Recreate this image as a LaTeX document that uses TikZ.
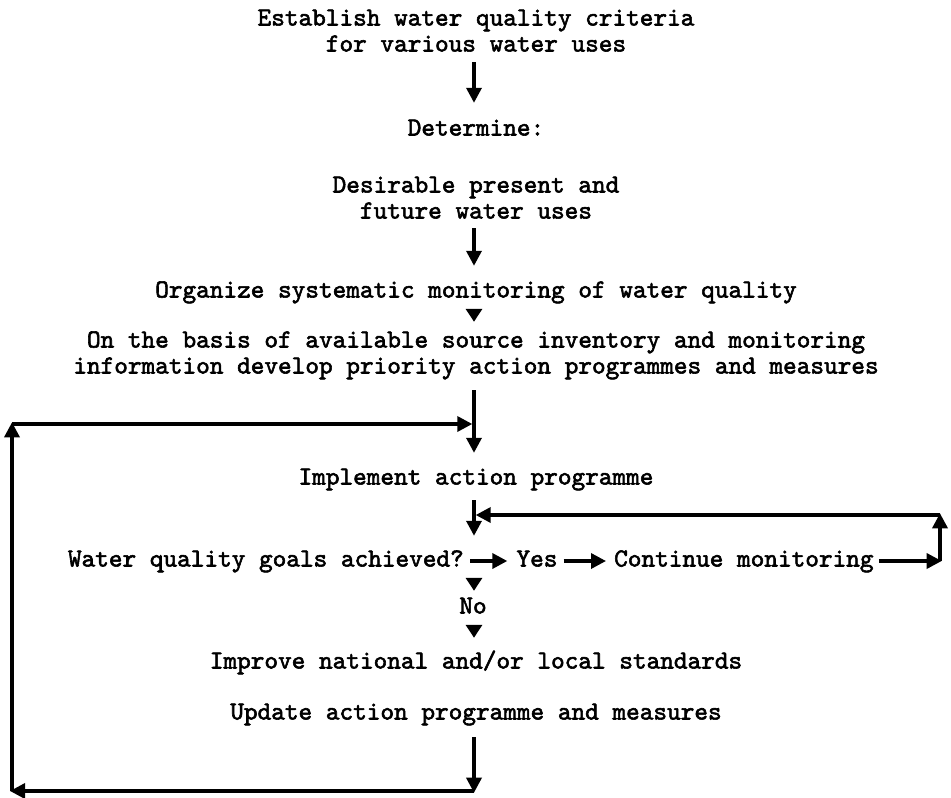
\documentclass[tikz,border=0pt]{standalone}
\usepackage{fontspec}
\newfontfamily\typewriter{lmmono10-regular.otf}[FakeBold=2.2]
\usetikzlibrary{arrows.meta}
\begin{document}
\begin{tikzpicture}[x=1pt,y=-1pt,
  lbl/.style={inner sep=0pt, font=\typewriter\fontsize{26}{28}\selectfont,
              text height=16pt, text depth=5pt},
  ln/.style={line width=3.4pt},
  arr/.style={ln, -{Triangle[length=15pt,width=15pt]}},
  tri/.style={ln, -{Triangle[length=13pt,width=16pt]}}]
\useasboundingbox (0,0) rectangle (951,798);

% vertical axis of the main chain
\coordinate (ax) at (474,0);

% text lines
\node[lbl] (n1) at (476,20) {Establish water quality criteria};
\node[lbl] (n2) at (476,46) {for various water uses};
\node[lbl] (n3) at (476,130) {Determine:};
\node[lbl] (n4) at (476,187) {Desirable present and};
\node[lbl] (n5) at (476,213) {future water uses};
\node[lbl] (n6) at (476,292) {Organize systematic monitoring of water quality};
\node[lbl] (n7) at (476,342) {On the basis of available source inventory and monitoring};
\node[lbl] (n8) at (476,368) {information develop priority action programmes and measures};
\node[lbl] (n9) at (476,479) {Implement action programme};
\node[lbl, anchor=east] (goals) at (464,561) {Water quality goals achieved?};
\node[lbl] (yes) at (537,561) {Yes};
\node[lbl, anchor=west] (cont) at (614,561) {Continue monitoring};
\node[lbl] (no) at (473,608) {No};
\node[lbl] (imp) at (476,663) {Improve national and/or local standards};
\node[lbl] (upd) at (476,714) {Update action programme and measures};

% loop corners
\coordinate (br) at (474,791);
\coordinate (bl) at (12,791);
\coordinate (tl) at (12,424);
\coordinate (tr) at (940,515);
\coordinate (rr) at (cont.east -| tr);

% main chain
\draw[arr, shorten <=5.5pt, shorten >=16.5pt] (n2.south -| ax) -- (n3.north -| ax);
\draw[arr, shorten <=4.5pt, shorten >=15.5pt] (n5.south -| ax) -- (n6.north -| ax);
\draw[tri, shorten <=6.5pt, shorten >=9.5pt] (n6.south -| ax) -- (n7.north -| ax);
\draw[arr, shorten <=11.5pt, shorten >=15.5pt] (n8.south -| ax) -- (n9.north -| ax);
\draw[arr, shorten <=10.5pt, shorten >=14.5pt] (n9.south -| ax) -- (goals.north -| ax);
\draw[tri, shorten <=6.5pt, shorten >=6.5pt] (goals.south -| ax) -- (no.north -| ax);
\draw[tri, shorten <=6.5pt, shorten >=14.5pt] (no.south -| ax) -- (imp.north -| ax);

% yes branch
\draw[arr, shorten <=6pt, shorten >=9pt] (goals.east) -- (yes.west);
\draw[arr, shorten <=6pt, shorten >=8pt] (yes.east) -- (cont.west);
\draw[arr, shorten <=5pt, shorten >=-1.7pt] (cont.east) -- (rr);
\draw[arr, shorten >=-1.7pt] (rr) -- (tr);
\draw[arr, shorten >=1.7pt] (tr) -- (tr -| ax);

% update loop back to implementation
\draw[arr, shorten <=12.5pt, shorten >=-1.7pt] (upd.south -| ax) -- (br);
\draw[arr, shorten >=-2pt] (br) -- (bl);
\draw[arr, shorten >=-1.7pt] (bl) -- (tl);
\draw[arr, shorten >=1.7pt] (tl) -- (tl -| ax);
\end{tikzpicture}
\end{document}
